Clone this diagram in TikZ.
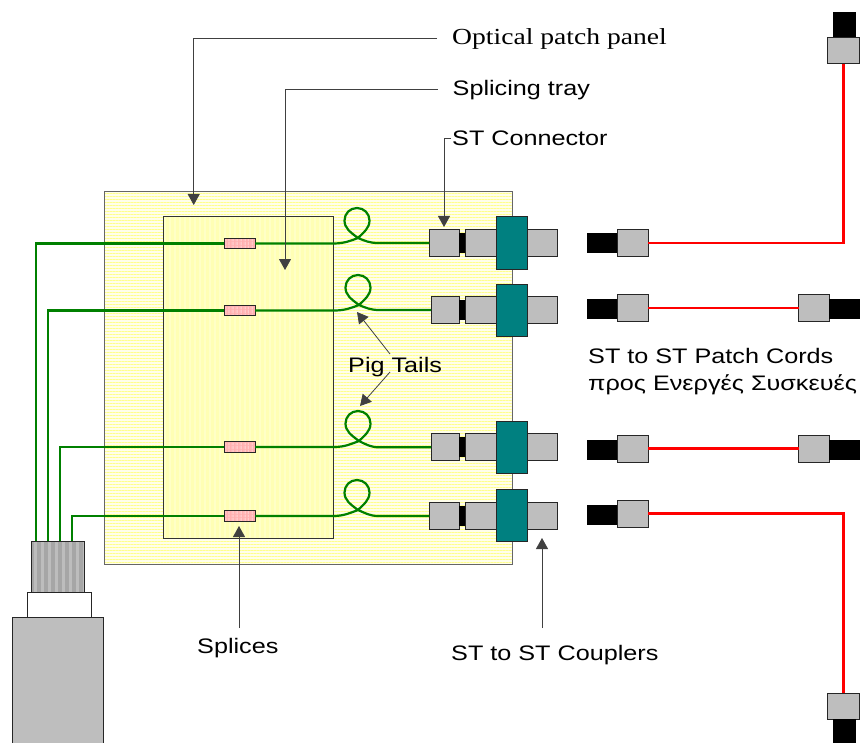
\documentclass[tikz,border=0pt]{standalone}
\usepackage{fontspec}
\setmainfont[FakeStretch=1.2]{Liberation Sans}
\newfontfamily\panelfont[FakeStretch=1.2]{Liberation Serif}
\usepackage{tikz}
\usetikzlibrary{arrows.meta,patterns.meta}
\definecolor{boxgrey}{HTML}{BEBEBE}
\definecolor{coupler}{HTML}{008080}
\definecolor{fibregreen}{HTML}{008000}
\definecolor{cordred}{HTML}{FF0000}
\definecolor{splicepink}{HTML}{FFB0B0}
\definecolor{trayyellow}{HTML}{FFFFB4}
\tikzset{
    part/.style={draw=black!85, line width=1pt, inner sep=0pt, outer sep=0pt},
    greybox/.style={part, fill=boxgrey, minimum height=27pt},
    blackbox/.style={fill=black, inner sep=0pt, outer sep=0pt, minimum height=20pt},
    couplerbox/.style={part, fill=coupler, minimum width=30.5pt, minimum height=52pt},
    splicebox/.style={part, minimum width=31pt, minimum height=10.5pt, preaction={fill=splicepink},
        pattern={Lines[angle=90,distance=4pt,line width=1.5pt]}, pattern color=splicepink!70!white},
    fibre/.style={draw=fibregreen, line width=2.2pt},
    cord/.style={draw=cordred, line width=2.2pt},
    leader/.style={draw=black!75, line width=0.9pt, -{Triangle[length=11pt,width=12pt]}},
    lbl/.style={anchor=base west, inner sep=0pt, font=\fontsize{21}{27}\selectfont},
}
\begin{document}
\begin{tikzpicture}[x=1pt,y=-1pt]
            \useasboundingbox (0,0) rectangle (861,743);
            \clip (0,0) rectangle (861,743);

            % panel and tray
            \node[draw=black!60, line width=1pt, inner sep=0pt, minimum width=408pt, minimum height=372pt,
                preaction={fill=white!92!yellow},
                pattern={Lines[angle=0,distance=3pt,line width=1pt]}, pattern color=yellow!45] (panel) at (308,378) {};
            \node[draw=black!80, line width=1pt, inner sep=0pt, minimum width=169.5pt, minimum height=321pt,
                preaction={fill=trayyellow},
                pattern={Lines[angle=90,distance=5pt,line width=2pt]}, pattern color=trayyellow!75!white] (tray) at (248.5,377.5) {};

            % cable
            \node[part, minimum width=52.7pt, minimum height=51.3pt, preaction={fill=black!35},
                pattern={Lines[angle=90,distance=7pt,line width=3pt]}, pattern color=black!26] (sleeve) at (58,566.7) {};
            \node[part, fill=white, minimum width=64pt, minimum height=25.4pt] (collar) at (59.7,605) {};
            \node[part, fill=boxgrey, minimum width=91pt, minimum height=130pt] (jacket) at (58.2,682.7) {};

            % splices
            \node[splicebox] (sp1) at (239.5,243.5) {};
            \node[splicebox] (sp2) at (239.5,310.5) {};
            \node[splicebox] (sp3) at (239.5,447) {};
            \node[splicebox] (sp4) at (239.5,516) {};

            % connectors on the panel
            \node[greybox, minimum width=30pt] (st1) at (444.4,243) {};
            \node[blackbox, minimum width=6pt] (jk1) at (462.2,243) {};
            \node[greybox, minimum width=31.5pt] (ad1) at (481.2,243) {};
            \node[greybox, minimum width=30.5pt] (ot1) at (542.3,243) {};
            \node[couplerbox] (cp1) at (512,243) {};

            \node[greybox, minimum width=28.5pt] (st2) at (445.3,310) {};
            \node[blackbox, minimum width=6pt] (jk2) at (462.2,310) {};
            \node[greybox, minimum width=31.5pt] (ad2) at (481.2,310) {};
            \node[greybox, minimum width=30.5pt] (ot2) at (542.3,310) {};
            \node[couplerbox] (cp2) at (512,310) {};

            \node[greybox, minimum width=28.5pt] (st3) at (445.3,447.3) {};
            \node[blackbox, minimum width=6pt] (jk3) at (462.2,447.3) {};
            \node[greybox, minimum width=31.5pt] (ad3) at (481.2,447.3) {};
            \node[greybox, minimum width=30.5pt] (ot3) at (542.3,447.3) {};
            \node[couplerbox] (cp3) at (512,447) {};

            \node[greybox, minimum width=30pt] (st4) at (444.4,516) {};
            \node[blackbox, minimum width=6pt] (jk4) at (462.2,516) {};
            \node[greybox, minimum width=31.5pt] (ad4) at (481.2,516) {};
            \node[greybox, minimum width=30.5pt] (ot4) at (542.3,516) {};
            \node[couplerbox] (cp4) at (512,515.3) {};

            % patch cords
            \node[blackbox, minimum width=31pt] (ba1) at (602.5,243.3) {};
            \node[greybox, minimum width=30.5pt] (pa1) at (633,243) {};
            \node[blackbox, minimum width=31pt] (ba2) at (602.5,309) {};
            \node[greybox, minimum width=30.5pt] (pa2) at (633,308) {};
            \node[greybox, minimum width=30.5pt] (pb2) at (814,308) {};
            \node[blackbox, minimum width=31pt] (bb2) at (844.5,309) {};
            \node[blackbox, minimum width=31pt] (ba3) at (602.5,449.5) {};
            \node[greybox, minimum width=30.5pt] (pa3) at (633,448.5) {};
            \node[greybox, minimum width=30.5pt] (pb3) at (814,448.5) {};
            \node[blackbox, minimum width=31pt] (bb3) at (844.5,449.5) {};
            \node[blackbox, minimum width=31pt] (ba4) at (602.5,514.5) {};
            \node[greybox, minimum width=30.5pt] (pa4) at (633,513.5) {};

            \node[blackbox, minimum width=23pt, minimum height=26pt] (bt) at (844.5,25) {};
            \node[greybox, minimum width=32.5pt, minimum height=26pt] (pt) at (843.5,51) {};
            \node[greybox, minimum width=32.5pt, minimum height=26pt] (pd) at (843.5,706) {};
            \node[blackbox, minimum width=23pt, minimum height=24pt] (bd) at (844.5,731) {};

            \draw[cord] (pa1.east) -| (pt.south);
            \draw[cord] (pa2.east) -- (pb2.west);
            \draw[cord] (pa3.east) -- (pb3.west);
            \draw[cord] (pa4.east) -| (pd.north);

            % fibres
            \coordinate (f1) at (36,541);
            \coordinate (f2) at (48,541);
            \coordinate (f3) at (60,541);
            \coordinate (f4) at (72,541);
            \draw[fibre] (f1) |- (sp1.west);
            \draw[fibre] (f2) |- (sp2.west);
            \draw[fibre] (f3) |- (sp3.west);
            \draw[fibre] (f4) |- (sp4.west);

            \draw[fibre] (sp1.east) -- (333,243.5) .. controls (344,243.5) and (350,241) .. (358,238)
                .. controls (364,232) and (369.5,228) .. (369.5,220.5) .. controls (369.5,213.5) and (364,208) .. (357,208)
                .. controls (350,208) and (344.5,213.5) .. (344.5,220.5) .. controls (344.5,228) and (350,232) .. (358,238)
                .. controls (365,241) and (370,243) .. (378,243) -- (st1.west);
            \draw[fibre] (sp2.east) -- (334,310.5) .. controls (345,310.5) and (351,308) .. (359,305)
                .. controls (365,299) and (370.5,295) .. (370.5,287.5) .. controls (370.5,280.5) and (365,275) .. (358,275)
                .. controls (351,275) and (345.5,280.5) .. (345.5,287.5) .. controls (345.5,295) and (351,299) .. (359,305)
                .. controls (366,308) and (371,310) .. (379,310) -- (st2.west);
            \draw[fibre] (sp3.east) -- (334,447) .. controls (345,447) and (351,444) .. (359,441)
                .. controls (365,435) and (370.5,431) .. (370.5,423.5) .. controls (370.5,416.5) and (365,411) .. (358,411)
                .. controls (351,411) and (345.5,416.5) .. (345.5,423.5) .. controls (345.5,431) and (351,435) .. (359,441)
                .. controls (366,444.5) and (371,447.3) .. (379,447.3) -- (st3.west);
            \draw[fibre] (sp4.east) -- (333,516) .. controls (344,516) and (350,513) .. (358,510)
                .. controls (364,504) and (369.5,500) .. (369.5,492.5) .. controls (369.5,485.5) and (364,480) .. (357,480)
                .. controls (350,480) and (344.5,485.5) .. (344.5,492.5) .. controls (344.5,500) and (350,504) .. (358,510)
                .. controls (365,513) and (370,516) .. (378,516) -- (st4.west);

            % labels
            \node[lbl, font=\panelfont\fontsize{23}{27}\selectfont] (optical) at (452,45) {Optical patch panel};
            \node[lbl] (tray label) at (452.5,96) {Splicing tray};
            \node[lbl] (stc) at (452,146) {ST Connector};
            \node[lbl] (pig) at (348,372) {Pig Tails};
            \node[lbl] (spl) at (197,653) {Splices};
            \node[lbl] (stc2) at (451,660) {ST to ST Couplers};
            \node[lbl] (cords) at (588,363) {ST to ST Patch Cords};
            \node[lbl] (energy) at (588,390) {προς Ενεργές Συσκευές};

            \coordinate (panel in) at (193.7,205);
            \coordinate (tray in) at (285,270);
            \coordinate (st in) at (444,227);
            \coordinate (pig a) at (357,312);
            \coordinate (pig b) at (360,406);
            \coordinate (spl in) at (239,526);
            \coordinate (cpl in) at (542,538);

            \draw[leader] ([xshift=-15pt,yshift=6.5pt]optical.base west) -| (panel in);
            \draw[leader] ([xshift=-15pt,yshift=7pt]tray label.base west) -| (tray in);
            \draw[leader] ([xshift=-1pt,yshift=8pt]stc.base west) -| (st in);
            \draw[leader, line width=0.8pt] ([xshift=42pt,yshift=18pt]pig.base west) -- (pig a);
            \draw[leader, line width=0.8pt] ([xshift=42pt]pig.base west) -- (pig b);
            \draw[leader] ([xshift=42pt,yshift=25pt]spl.base west) -- (spl in);
            \draw[leader] ([xshift=91pt,yshift=32pt]stc2.base west) -- (cpl in);
        \end{tikzpicture}
\end{document}
